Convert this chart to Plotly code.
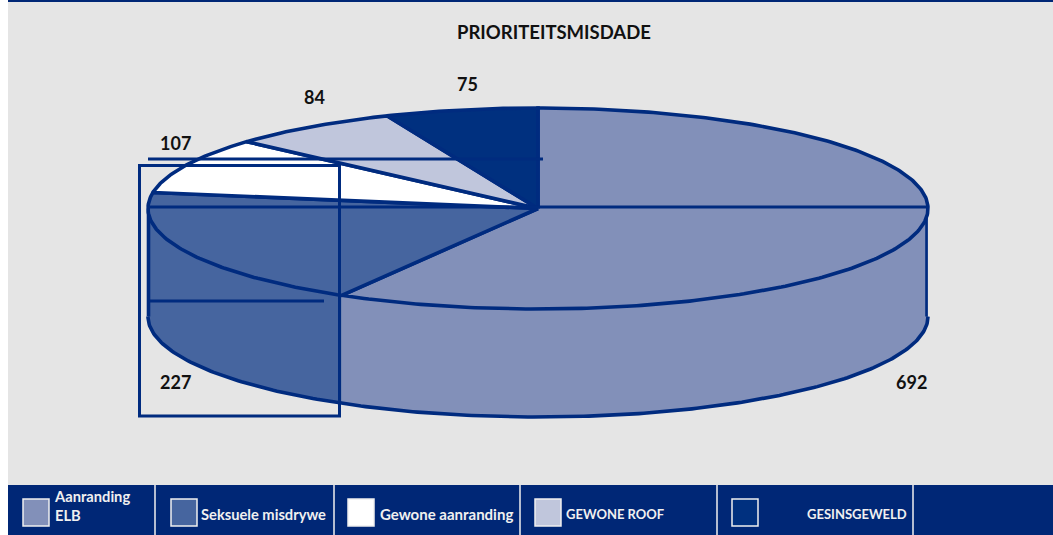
import numpy as np
import plotly.graph_objects as go

# ---- data ----
categories = ["Aanranding ELB", "Seksuele misdrywe", "Gewone aanranding", "GEWONE ROOF", "GESINSGEWELD"]
values = [692, 227, 107, 84, 75]
legend_labels = ["Aanranding<br>ELB", "Seksuele misdrywe", "Gewone aanranding", "GEWONE ROOF", "GESINSGEWELD"]
slice_colors = ["#8290B9", "#46659F", "#FFFFFF", "#C0C6DC", "#00307F"]
title_text = "PRIORITEITSMISDADE"

# ---- style / layout ----
NAVY = "#002776"
LINE = "#002B7F"
FONT = "Lato"
W, H = 1053, 535
CX, CY, RX, RY, DEPTH = 538, 208.5, 390, 100.5, 108
LW = 3.6
label_pos = [(911, 382), (175, 382), (175, 143), (314, 97), (467, 84)]
legend_seps = [155, 334, 520, 717, 913]
legend_swatch_x = [23, 171, 348, 535, 732]
legend_text_x = [52, 199, 378, 564, 805]
legend_text_y = [505, 514, 514, 514, 514]
legend_text_size = [14.7, 14.7, 15, 13, 13]

shares = np.cumsum([0] + values) / sum(values) * 2 * np.pi


def rim(a0, a1, n=240):
    a = np.linspace(a0, a1, max(2, int(n * (a1 - a0) / np.pi) + 2))
    return CX + RX * np.sin(a), CY - RY * np.cos(a)


fig = go.Figure()


def poly(x, y, fill, line_w=LW):
    fig.add_trace(go.Scatter(
        x=x, y=y, mode="lines", fill="toself", fillcolor=fill,
        line=dict(color=LINE if line_w else "rgba(0,0,0,0)", width=line_w),
        hoverinfo="skip", showlegend=False))


def stroke(x, y, w=LW):
    fig.add_trace(go.Scatter(x=x, y=y, mode="lines", line=dict(color=LINE, width=w),
                             hoverinfo="skip", showlegend=False))


# side walls: only the front half of the cylinder is visible
for i in range(len(values)):
    a0 = max(shares[i], np.pi / 2)
    a1 = min(shares[i + 1], 3 * np.pi / 2)
    if a1 <= a0:
        continue
    x, y = rim(a0, a1)
    poly(np.r_[x, x[::-1], x[0]], np.r_[y, (y + DEPTH)[::-1], y[0]], slice_colors[i], 0)

# wall outline: bottom rim and the two verticals
x, y = rim(np.pi / 2, 3 * np.pi / 2)
stroke(x, y + DEPTH)
stroke([CX + RX - 1.5, CX + RX - 1.5], [CY, CY + DEPTH], 2.6)
stroke([CX - RX + 0.5, CX - RX + 0.5], [CY, CY + DEPTH])

# top faces
for i in range(len(values)):
    x, y = rim(shares[i], shares[i + 1])
    poly(np.r_[CX, x, CX], np.r_[CY, y, CY], slice_colors[i])

# leader lines and box
shapes = [
    dict(type="rect", xref="x", yref="y", x0=8, x1=W, y0=2, y1=485, fillcolor="#E5E5E5", line_width=0, layer="below"),
    dict(type="rect", xref="x", yref="y", x0=8, x1=W, y0=0, y1=2, fillcolor=NAVY, line_width=0, layer="below"),
    dict(type="rect", xref="x", yref="y", x0=8, x1=W, y0=485, y1=H, fillcolor=NAVY, line_width=0, layer="below"),
]
for x0, y0, x1, y1 in [(148, 159, 543, 159), (148, 207, 928, 207), (149, 301, 324, 301)]:
    shapes.append(dict(type="line", xref="x", yref="y", x0=x0, x1=x1, y0=y0, y1=y1, line=dict(color=LINE, width=3)))
shapes.append(dict(type="rect", xref="x", yref="y", x0=139.5, x1=339.5, y0=165.5, y1=416, line=dict(color=LINE, width=3)))
for s in legend_seps:
    shapes.append(dict(type="line", xref="x", yref="y", x0=s, x1=s, y0=485, y1=H, line=dict(color="#F0F0F0", width=1.5)))
for sx, c in zip(legend_swatch_x, slice_colors):
    shapes.append(dict(type="rect", xref="x", yref="y", x0=sx, x1=sx + 26, y0=499, y1=526, fillcolor=c,
                       line=dict(color="#F0F0F0", width=1.5)))

ann = [dict(x=554, y=32, text=f"<b>{title_text}</b>", showarrow=False, xanchor="center", yanchor="middle",
            font=dict(family=FONT, size=18.5, color="#111111"))]
for (x, y), v in zip(label_pos, values):
    ann.append(dict(x=x, y=y, text=f"<b>{v}</b>", showarrow=False, xanchor="center", yanchor="middle",
                    font=dict(family=FONT, size=18, color="#111111")))
for tx, ty, t, sz in zip(legend_text_x, legend_text_y, legend_labels, legend_text_size):
    ann.append(dict(x=tx, y=ty, text=f"<b>{t}</b>", showarrow=False, xanchor="left", yanchor="middle", align="left",
                    font=dict(family=FONT, size=sz, color="#F0F0F0")))

fig.update_layout(
    width=W, height=H, margin=dict(l=0, r=0, t=0, b=0),
    paper_bgcolor="#FFFFFF", plot_bgcolor="rgba(0,0,0,0)",
    xaxis=dict(range=[0, W], visible=False, fixedrange=True),
    yaxis=dict(range=[H, 0], visible=False, fixedrange=True),
    shapes=shapes, annotations=ann, showlegend=False,
)
fig.write_html("out.html", config=dict(displayModeBar=False),
               post_script="document.body.style.margin='0';")
